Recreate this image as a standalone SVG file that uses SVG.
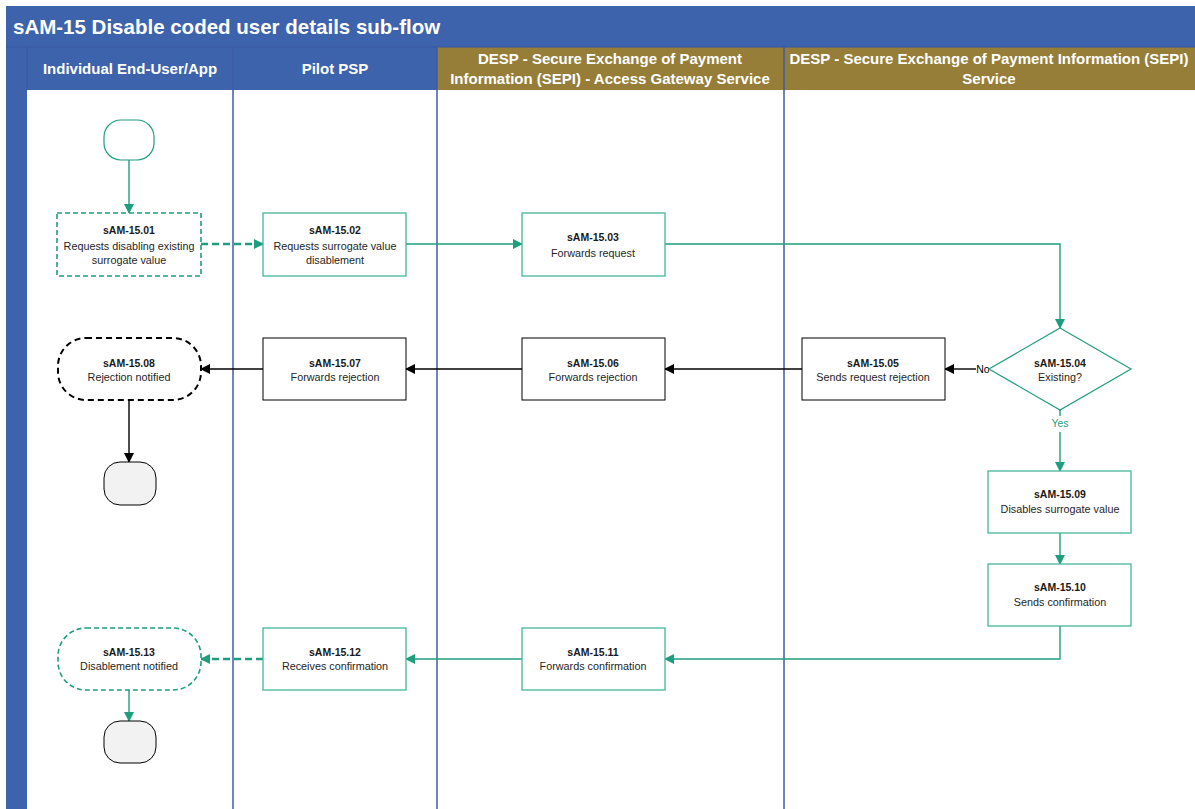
<svg xmlns="http://www.w3.org/2000/svg" width="1195" height="809" viewBox="0 0 1195 809">
  <style>
    .title { font-family: "Liberation Sans", Arial, sans-serif; font-weight: bold; font-size: 20.5px; fill: #ffffff; }
    .hdr { font-family: "Liberation Sans", Arial, sans-serif; font-weight: bold; font-size: 15px; fill: #ffffff; text-anchor: middle; }
    .id { font-family: "Liberation Sans", Arial, sans-serif; font-weight: bold; font-size: 10.5px; fill: #1a1a1a; text-anchor: middle; }
    .lbl { font-family: "Liberation Sans", Arial, sans-serif; font-size: 10.8px; fill: #262626; text-anchor: middle; }
    .box-t { fill: #ffffff; stroke: #45B597; stroke-width: 1.3; }
    .box-k { fill: #ffffff; stroke: #000000; stroke-width: 1; }
    .dash-t { fill: #ffffff; stroke: #1F9E7E; stroke-width: 1.6; stroke-dasharray: 5 3; }
    .dash-k { fill: #ffffff; stroke: #000000; stroke-width: 2; stroke-dasharray: 6 4; }
    .end { fill: #F2F2F2; stroke: #000000; stroke-width: 1; }
    .lane { stroke: #3F5BA9; stroke-width: 1.5; }
    .ct { fill: none; stroke: #1F9E7E; stroke-width: 1.4; marker-end: url(#aT); }
    .ctd { fill: none; stroke: #1F9E7E; stroke-width: 2.4; stroke-dasharray: 7 4; marker-end: url(#aT2); }
    .ck { fill: none; stroke: #000000; stroke-width: 1.4; marker-end: url(#aK); }
  </style>
  <defs>
    <marker id="aT" markerWidth="10" markerHeight="10" refX="9" refY="5" orient="auto" markerUnits="userSpaceOnUse">
      <path d="M0,0 L10,5 L0,10 Z" fill="#1F9E7E"/>
    </marker>
    <marker id="aT2" markerWidth="10" markerHeight="10" refX="9" refY="5" orient="auto" markerUnits="userSpaceOnUse">
      <path d="M0,0 L10,5 L0,10 Z" fill="#1F9E7E"/>
    </marker>
    <marker id="aK" markerWidth="10" markerHeight="10" refX="9" refY="5" orient="auto" markerUnits="userSpaceOnUse">
      <path d="M0,0 L10,5 L0,10 Z" fill="#000000"/>
    </marker>
  </defs>

  <rect x="0" y="0" width="1195" height="809" fill="#ffffff"/>

  <!-- pool frame with lane headers -->
  <g id="pool">
    <rect x="6" y="6" width="1189" height="41" fill="#3E63AD"/>
    <text class="title" x="13" y="34">sAM-15 Disable coded user details sub-flow</text>
    <rect x="6" y="47" width="21" height="762" fill="#3E63AD"/>
    <rect x="27" y="47" width="206" height="43" fill="#3E63AD"/>
    <rect x="233" y="47" width="204" height="43" fill="#3E63AD"/>
    <rect x="437" y="47" width="347" height="43" fill="#967E38"/>
    <rect x="784" y="47" width="411" height="43" fill="#967E38"/>
    <line x1="6" y1="47" x2="1195" y2="47" stroke="#3558A0" stroke-width="1"/>
    <line x1="27" y1="47" x2="27" y2="90" stroke="#3558A0" stroke-width="1"/>
    <text class="hdr" x="130" y="74">Individual End-User/App</text>
    <text class="hdr" x="335" y="74">Pilot PSP</text>
    <text class="hdr" x="610" y="64">DESP - Secure Exchange of Payment</text>
    <text class="hdr" x="610" y="84">Information (SEPI) - Access Gateway Service</text>
    <text class="hdr" x="989" y="64">DESP - Secure Exchange of Payment Information (SEPI)</text>
    <text class="hdr" x="989" y="84">Service</text>
    <line class="lane" x1="233" y1="47" x2="233" y2="809"/>
    <line class="lane" x1="437" y1="47" x2="437" y2="809"/>
    <line class="lane" x1="784" y1="47" x2="784" y2="809"/>
  </g>

  <!-- connectors -->
  <g id="connectors">
    <path class="ct" d="M129,160 L129,213"/>
    <path class="ctd" d="M201,244 L263,244"/>
    <path class="ct" d="M406,244 L522,244"/>
    <path class="ct" d="M665,244 L1060,244 L1060,328"/>
    <path class="ck" d="M976,369 L945,369"/>
    <text x="983" y="373" font-family="Liberation Sans, Arial, sans-serif" font-size="10.5" fill="#000" text-anchor="middle">No</text>
    <path class="ck" d="M802,369 L665,369"/>
    <path class="ck" d="M522,369 L406,369"/>
    <path class="ck" d="M263,369 L201,369"/>
    <path class="ck" d="M129,400 L129,462"/>
    <path d="M1060,410 L1060,416" fill="none" stroke="#1F9E7E" stroke-width="1.4"/>
    <text x="1060" y="427" font-family="Liberation Sans, Arial, sans-serif" font-size="10.5" fill="#1F9E7E" text-anchor="middle">Yes</text>
    <path class="ct" d="M1060,432 L1060,471"/>
    <path class="ct" d="M1060,533 L1060,564"/>
    <path class="ct" d="M1060,626 L1060,659 L665,659"/>
    <path class="ct" d="M522,659 L406,659"/>
    <path class="ctd" d="M263,659 L201,659"/>
    <path class="ct" d="M129,690 L129,721"/>
  </g>

  <g id="start">
    <rect x="104" y="120" width="50" height="40" rx="17" ry="17" fill="#ffffff" stroke="#1F9E7E" stroke-width="1.2"/>
  </g>

  <g id="sAM-15.01">
    <rect class="dash-t" x="57" y="213" width="144" height="63"/>
    <text class="id" x="129" y="234">sAM-15.01</text>
    <text class="lbl" x="129" y="250">Requests disabling existing</text>
    <text class="lbl" x="129" y="264">surrogate value</text>
  </g>

  <g id="sAM-15.02">
    <rect class="box-t" x="263" y="213" width="143" height="63"/>
    <text class="id" x="335" y="234">sAM-15.02</text>
    <text class="lbl" x="335" y="250">Requests surrogate value</text>
    <text class="lbl" x="335" y="264">disablement</text>
  </g>

  <g id="sAM-15.03">
    <rect class="box-t" x="522" y="213" width="143" height="63"/>
    <text class="id" x="593" y="241">sAM-15.03</text>
    <text class="lbl" x="593" y="257">Forwards request</text>
  </g>

  <g id="sAM-15.04">
    <polygon points="1060,328 1131,369 1060,410 989,369" fill="#ffffff" stroke="#1F9E7E" stroke-width="1.2"/>
    <text class="id" x="1060" y="367">sAM-15.04</text>
    <text class="lbl" x="1060" y="381">Existing?</text>
  </g>

  <g id="sAM-15.05">
    <rect class="box-k" x="802" y="338" width="143" height="62"/>
    <text class="id" x="873" y="367">sAM-15.05</text>
    <text class="lbl" x="873" y="381">Sends request rejection</text>
  </g>

  <g id="sAM-15.06">
    <rect class="box-k" x="522" y="338" width="143" height="62"/>
    <text class="id" x="593" y="367">sAM-15.06</text>
    <text class="lbl" x="593" y="381">Forwards rejection</text>
  </g>

  <g id="sAM-15.07">
    <rect class="box-k" x="263" y="338" width="143" height="62"/>
    <text class="id" x="335" y="367">sAM-15.07</text>
    <text class="lbl" x="335" y="381">Forwards rejection</text>
  </g>

  <g id="sAM-15.08">
    <rect class="dash-k" x="58" y="338" width="143" height="62" rx="28" ry="28"/>
    <text class="id" x="129" y="367">sAM-15.08</text>
    <text class="lbl" x="129" y="381">Rejection notified</text>
  </g>

  <g id="end-rejected">
    <rect class="end" x="104" y="462" width="52" height="43" rx="16" ry="16"/>
  </g>

  <g id="sAM-15.09">
    <rect class="box-t" x="988" y="471" width="143" height="62"/>
    <text class="id" x="1060" y="498">sAM-15.09</text>
    <text class="lbl" x="1060" y="513">Disables surrogate value</text>
  </g>

  <g id="sAM-15.10">
    <rect class="box-t" x="988" y="564" width="143" height="62"/>
    <text class="id" x="1060" y="591">sAM-15.10</text>
    <text class="lbl" x="1060" y="606">Sends confirmation</text>
  </g>

  <g id="sAM-15.11">
    <rect class="box-t" x="522" y="628" width="143" height="62"/>
    <text class="id" x="593" y="656">sAM-15.11</text>
    <text class="lbl" x="593" y="670">Forwards confirmation</text>
  </g>

  <g id="sAM-15.12">
    <rect class="box-t" x="263" y="628" width="143" height="62"/>
    <text class="id" x="335" y="656">sAM-15.12</text>
    <text class="lbl" x="335" y="670">Receives confirmation</text>
  </g>

  <g id="sAM-15.13">
    <rect class="dash-t" x="58" y="628" width="143" height="62" rx="28" ry="28"/>
    <text class="id" x="129" y="656">sAM-15.13</text>
    <text class="lbl" x="129" y="670">Disablement notified</text>
  </g>

  <g id="end-disabled">
    <rect class="end" x="104" y="721" width="52" height="42" rx="16" ry="16"/>
  </g>
</svg>
